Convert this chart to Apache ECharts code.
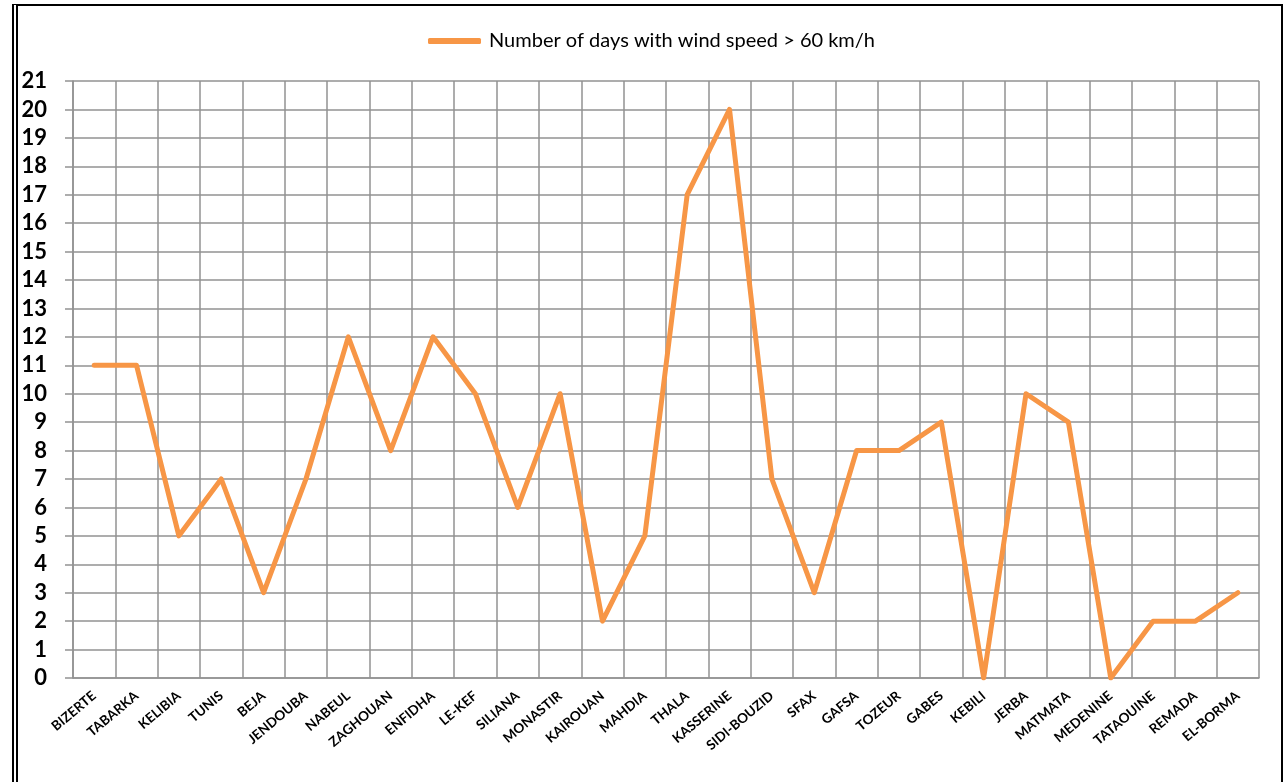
<!DOCTYPE html>
<html>
<head>
<meta charset="utf-8">
<script src="https://cdn.jsdelivr.net/npm/echarts@6/dist/echarts.min.js"></script>
<style>
  html, body { margin: 0; padding: 0; background: #fff; }
  #main { position: absolute; left: 0; top: 0; width: 1283px; height: 782px; }
  #frame {
    position: absolute; left: 12px; top: 4px; width: 1263px; height: 800px;
    border-left: 6px double #000; border-top: 2px solid #000; border-right: 2px solid #000;
    pointer-events: none;
  }
</style>
</head>
<body>
<div id="main"></div>
<div id="frame"></div>
<script>
// stations along the x axis
var stations = ['BIZERTE', 'TABARKA', 'KELIBIA', 'TUNIS', 'BEJA', 'JENDOUBA', 'NABEUL', 'ZAGHOUAN',
  'ENFIDHA', 'LE-KEF', 'SILIANA', 'MONASTIR', 'KAIROUAN', 'MAHDIA', 'THALA', 'KASSERINE',
  'SIDI-BOUZID', 'SFAX', 'GAFSA', 'TOZEUR', 'GABES', 'KEBILI', 'JERBA', 'MATMATA',
  'MEDENINE', 'TATAOUINE', 'REMADA', 'EL-BORMA'];
// number of days with wind speed > 60 km/h
var windDays = [11, 11, 5, 7, 3, 7, 12, 8, 12, 10, 6, 10, 2, 5, 17, 20, 7, 3, 8, 8, 9, 0, 10, 9, 0, 2, 2, 3];
var seriesName = 'Number of days with wind speed > 60 km/h';

var gridColor = '#929292';
var myChart = echarts.init(document.getElementById('main'));

var option = {
  animation: false,
  legend: {
    left: 423,
    top: 26,
    icon: 'roundRect',
    itemWidth: 53,
    itemHeight: 6,
    data: [seriesName],
    itemStyle: { color: '#F79646' },
    textStyle: { fontFamily: 'Lato', fontSize: 20, color: '#000', padding: [0, 0, 0, 3] }
  },
  grid: { left: 73, right: 24, top: 81, bottom: 104 },
  xAxis: {
    type: 'category',
    data: stations,
    boundaryGap: true,
    axisLine: { lineStyle: { color: gridColor, width: 1.5 } },
    axisTick: { length: 5, lineStyle: { color: gridColor, width: 1.5 } },
    splitLine: { show: true, lineStyle: { color: gridColor, width: 1.5 } },
    axisLabel: {
      interval: 0,
      rotate: 40,
      margin: 16,
      fontFamily: 'Lato',
      fontWeight: 'bold',
      fontSize: 13.5,
      color: '#000'
    }
  },
  yAxis: {
    type: 'value',
    min: 0,
    max: 21,
    interval: 1,
    axisLine: { show: true, lineStyle: { color: gridColor, width: 1.5 } },
    axisTick: { show: true, length: 8, lineStyle: { color: gridColor, width: 1.5 } },
    splitLine: { show: true, lineStyle: { color: gridColor, width: 1.5 } },
    axisLabel: {
      margin: 26,
      fontFamily: 'Lato',
      fontWeight: 'bold',
      fontSize: 22,
      color: '#000'
    }
  },
  series: [
    {
      name: seriesName,
      type: 'line',
      data: windDays,
      symbol: 'none',
      color: '#F79646',
      lineStyle: { color: '#F79646', width: 5, join: 'round', cap: 'round' }
    }
  ]
};

myChart.setOption(option);
</script>
</body>
</html>
